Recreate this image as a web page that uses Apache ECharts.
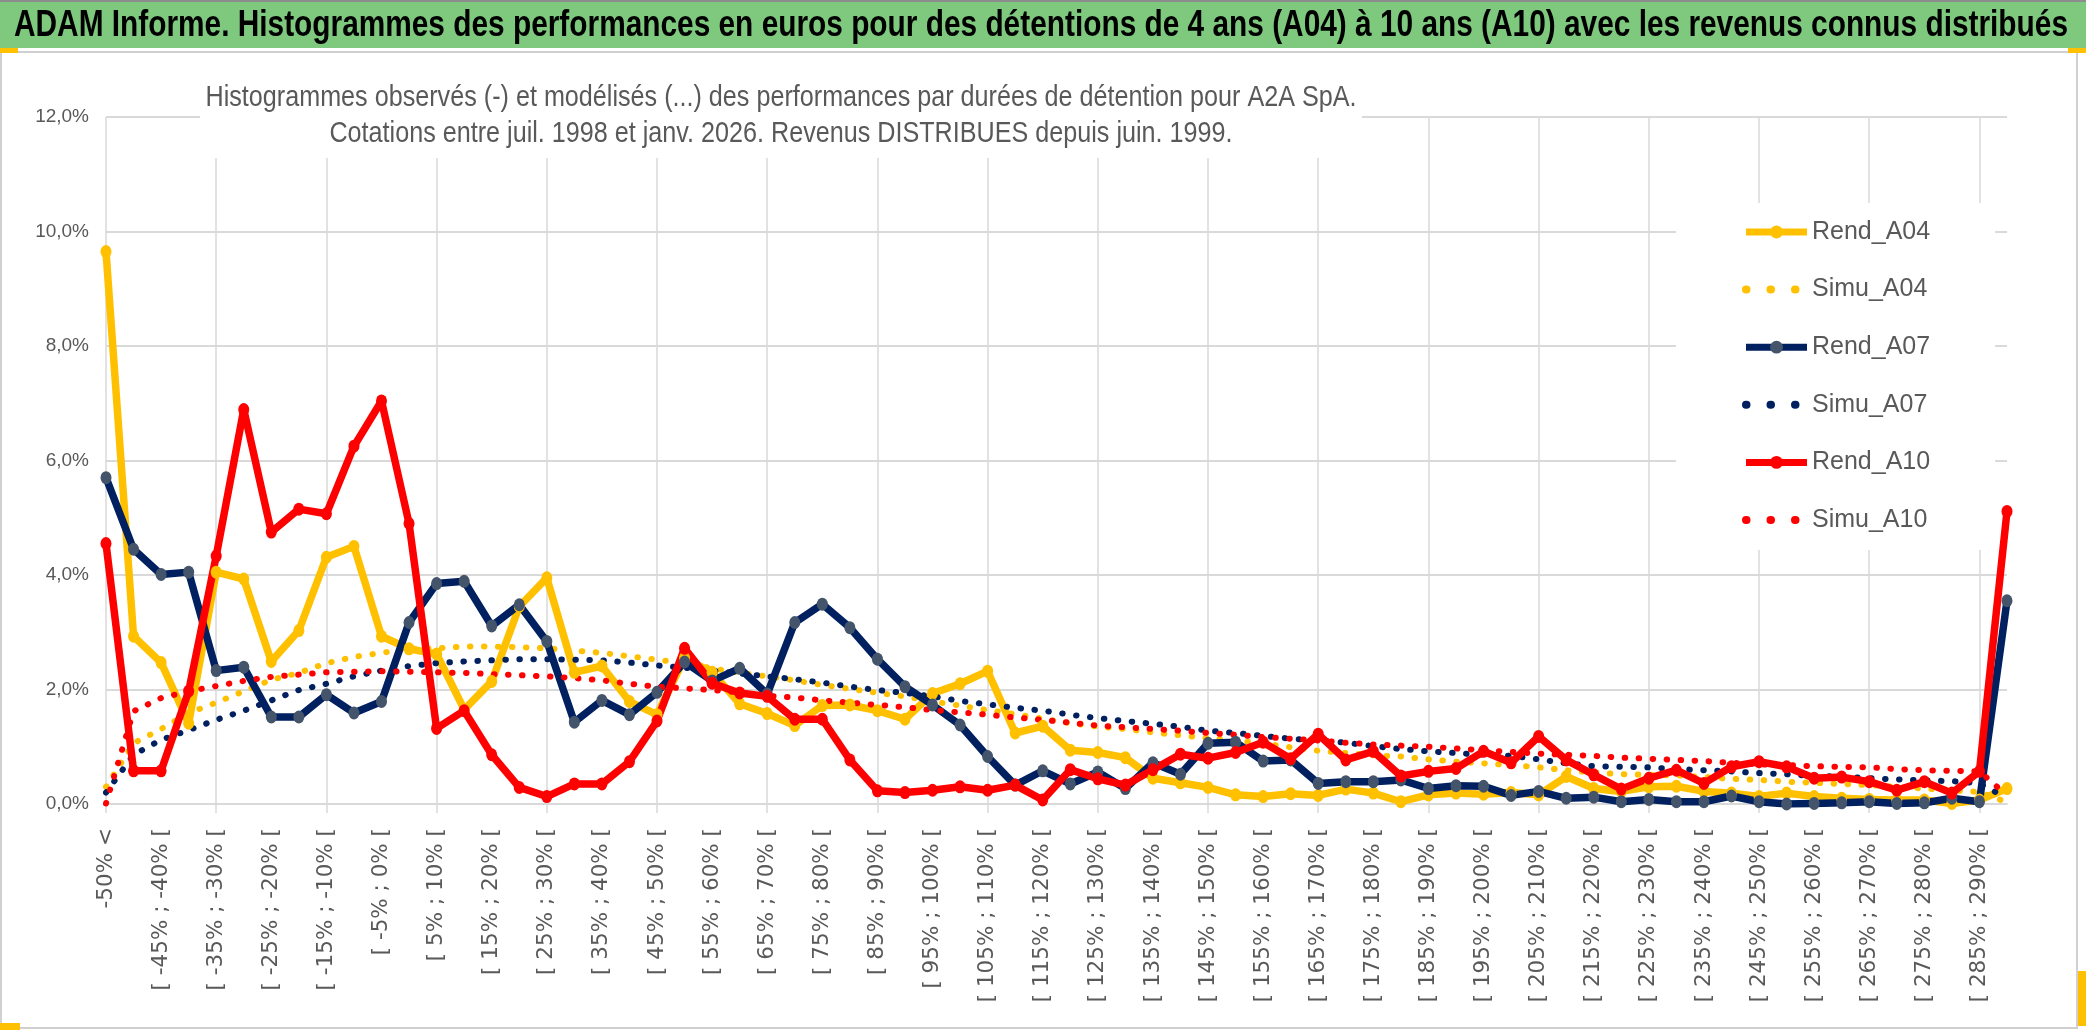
<!DOCTYPE html>
<html>
<head>
<meta charset="utf-8">
<script src="https://cdn.jsdelivr.net/npm/echarts@6/dist/echarts.min.js"></script>
<style>
html,body{margin:0;padding:0;background:#fff;}
#chart{width:2086px;height:1031px;}
</style>
</head>
<body>
<div id="chart"></div>
<script>
const categories = [
 "-50% <","[ -50% ; -45% [","[ -45% ; -40% [","[ -40% ; -35% [","[ -35% ; -30% [","[ -30% ; -25% [","[ -25% ; -20% [","[ -20% ; -15% [","[ -15% ; -10% [","[ -10% ; -5% [",
 "[ -5% ; 0% [","[ 0% ; 5% [","[ 5% ; 10% [","[ 10% ; 15% [","[ 15% ; 20% [","[ 20% ; 25% [","[ 25% ; 30% [","[ 30% ; 35% [","[ 35% ; 40% [","[ 40% ; 45% [",
 "[ 45% ; 50% [","[ 50% ; 55% [","[ 55% ; 60% [","[ 60% ; 65% [","[ 65% ; 70% [","[ 70% ; 75% [","[ 75% ; 80% [","[ 80% ; 85% [","[ 85% ; 90% [","[ 90% ; 95% [",
 "[ 95% ; 100% [","[ 100% ; 105% [","[ 105% ; 110% [","[ 110% ; 115% [","[ 115% ; 120% [","[ 120% ; 125% [","[ 125% ; 130% [","[ 130% ; 135% [","[ 135% ; 140% [","[ 140% ; 145% [",
 "[ 145% ; 150% [","[ 150% ; 155% [","[ 155% ; 160% [","[ 160% ; 165% [","[ 165% ; 170% [","[ 170% ; 175% [","[ 175% ; 180% [","[ 180% ; 185% [","[ 185% ; 190% [","[ 190% ; 195% [",
 "[ 195% ; 200% [","[ 200% ; 205% [","[ 205% ; 210% [","[ 210% ; 215% [","[ 215% ; 220% [","[ 220% ; 225% [","[ 225% ; 230% [","[ 230% ; 235% [","[ 235% ; 240% [","[ 240% ; 245% [",
 "[ 245% ; 250% [","[ 250% ; 255% [","[ 255% ; 260% [","[ 260% ; 265% [","[ 265% ; 270% [","[ 270% ; 275% [","[ 275% ; 280% [","[ 280% ; 285% [","[ 285% ; 290% [","> 290%"
];

// values in percent
const rendA04 = [9.65,2.93,2.47,1.41,4.05,3.93,2.49,3.03,4.31,4.50,
 2.93,2.71,2.62,1.65,2.14,3.45,3.95,2.30,2.41,1.79,
 1.56,2.55,2.30,1.75,1.58,1.37,1.72,1.73,1.63,1.48,
 1.93,2.10,2.32,1.24,1.36,0.94,0.90,0.81,0.45,0.37,
 0.29,0.16,0.13,0.18,0.15,0.26,0.19,0.04,0.16,0.19,
 0.17,0.20,0.16,0.48,0.27,0.22,0.30,0.31,0.22,0.19,
 0.13,0.19,0.13,0.10,0.08,0.07,0.07,0.01,0.07,0.27];
const simuA04 = [0.30,1.06,1.31,1.59,1.77,1.97,2.17,2.29,2.46,2.57,
 2.64,2.71,2.72,2.75,2.75,2.74,2.72,2.68,2.64,2.58,
 2.52,2.46,2.37,2.29,2.23,2.16,2.08,2.01,1.94,1.88,
 1.79,1.72,1.64,1.57,1.49,1.41,1.35,1.31,1.25,1.20,
 1.15,1.11,1.06,0.99,0.93,0.89,0.85,0.83,0.78,0.74,
 0.71,0.68,0.64,0.59,0.55,0.52,0.51,0.50,0.47,0.44,
 0.42,0.39,0.37,0.35,0.33,0.30,0.27,0.24,0.21,0.03];
const rendA07 = [5.70,4.45,4.01,4.05,2.33,2.39,1.52,1.52,1.91,1.59,
 1.79,3.17,3.85,3.89,3.11,3.48,2.84,1.43,1.81,1.56,
 1.95,2.48,2.15,2.37,1.92,3.17,3.49,3.08,2.53,2.05,
 1.73,1.38,0.83,0.33,0.58,0.35,0.56,0.27,0.72,0.52,
 1.06,1.08,0.75,0.77,0.36,0.39,0.39,0.42,0.27,0.32,
 0.31,0.15,0.22,0.10,0.12,0.04,0.08,0.04,0.04,0.14,
 0.04,0.00,0.01,0.02,0.04,0.01,0.02,0.10,0.04,3.55];
const simuA07 = [0.20,0.86,1.12,1.29,1.47,1.63,1.81,1.99,2.10,2.23,
 2.33,2.41,2.46,2.49,2.51,2.53,2.53,2.52,2.51,2.47,
 2.42,2.38,2.33,2.28,2.23,2.18,2.12,2.05,1.99,1.94,
 1.88,1.80,1.74,1.68,1.63,1.56,1.50,1.45,1.40,1.35,
 1.28,1.24,1.19,1.14,1.11,1.07,1.01,0.96,0.92,0.89,
 0.86,0.84,0.78,0.71,0.66,0.65,0.64,0.61,0.59,0.57,
 0.54,0.52,0.49,0.48,0.45,0.43,0.41,0.40,0.36,0.10];
const rendA10 = [4.55,0.58,0.58,1.97,4.33,6.89,4.75,5.15,5.07,6.25,
 7.04,4.90,1.32,1.63,0.86,0.29,0.13,0.35,0.35,0.74,
 1.45,2.72,2.11,1.94,1.88,1.48,1.48,0.77,0.23,0.20,
 0.24,0.30,0.24,0.33,0.07,0.60,0.44,0.33,0.60,0.87,
 0.80,0.90,1.08,0.79,1.22,0.77,0.92,0.49,0.57,0.62,
 0.92,0.72,1.18,0.77,0.51,0.26,0.45,0.59,0.36,0.65,
 0.74,0.65,0.45,0.47,0.39,0.24,0.39,0.19,0.57,5.11];
const simuA10 = [0.01,1.62,1.85,1.97,2.06,2.15,2.22,2.26,2.30,2.31,
 2.32,2.31,2.30,2.29,2.27,2.25,2.23,2.20,2.16,2.10,
 2.05,2.02,1.99,1.95,1.89,1.86,1.81,1.77,1.73,1.69,
 1.64,1.60,1.56,1.51,1.47,1.42,1.37,1.34,1.31,1.28,
 1.24,1.21,1.17,1.14,1.11,1.07,1.04,1.02,1.00,0.97,
 0.94,0.91,0.88,0.86,0.84,0.81,0.79,0.77,0.75,0.72,
 0.69,0.68,0.66,0.65,0.64,0.61,0.59,0.58,0.57,0.15];

const seriesNames = ["Rend_A04","Simu_A04","Rend_A07","Simu_A07","Rend_A10","Simu_A10"];
const mainTitle = "ADAM Informe. Histogrammes des performances en euros pour des détentions de 4 ans (A04) à 10 ans (A10) avec les revenus connus distribués";
const subTitle1 = "Histogrammes observés (-) et modélisés (...) des performances par durées de détention pour A2A SpA.";
const subTitle2 = "Cotations entre juil. 1998 et janv. 2026. Revenus DISTRIBUES depuis juin. 1999.";

const SANS = "'Liberation Sans', Arial, sans-serif";
const GREY = '#595959';
const GRID = '#D9D9D9';

// measure text to emulate the condensed face of the original
const mctx = document.createElement('canvas').getContext('2d');
function textWidth(font, s) { mctx.font = font; return mctx.measureText(s).width; }
const TITLE_FONT = "bold 37px 'Liberation Sans'";
const SUB_FONT = "30px 'Liberation Sans'";
const titleScale = 2054 / textWidth(TITLE_FONT, mainTitle);
const subScale = 1151 / textWidth(SUB_FONT, subTitle1);

function rend(name, data, lineColor, markerColor) {
  return {
    name: name, type: 'line', data: data,
    symbol: 'circle', symbolSize: [11, 13], showSymbol: true,
    lineStyle: {color: lineColor, width: 7.5, join: 'round'},
    itemStyle: {color: markerColor, borderWidth: 0},
    emphasis: {disabled: true}
  };
}
function simu(name, data, color) {
  return {
    name: name, type: 'line', data: data,
    symbol: 'none', showSymbol: false,
    lineStyle: {color: color, width: 6, type: [0.5, 13.5], cap: 'round'},
    itemStyle: {color: color},
    emphasis: {disabled: true}
  };
}
function legendItem(name) {
  if (name.indexOf('Simu') === 0) {
    return {name: name, itemStyle: {opacity: 0}, lineStyle: {width: 8, type: [0.5, 24], cap: 'round'}};
  }
  return {name: name, lineStyle: {width: 7}};
}

const chart = echarts.init(document.getElementById('chart'), null, {renderer: 'canvas'});
chart.setOption({
  animation: false,
  backgroundColor: '#fff',
  graphic: [
    {type: 'rect', z: -10, shape: {x: 0, y: 0, width: 2086, height: 2}, style: {fill: '#8c8c8c'}},
    {type: 'rect', z: -10, shape: {x: 0, y: 2, width: 2086, height: 46}, style: {fill: '#7EC97E'}},
    {type: 'rect', z: -10, shape: {x: 1, y: 52, width: 2076, height: 976}, style: {fill: 'none', stroke: '#D0D0D0', lineWidth: 2}},
    {type: 'rect', z: -9, shape: {x: 0, y: 48, width: 18, height: 5}, style: {fill: '#FFC000'}},
    {type: 'rect', z: -9, shape: {x: 2068, y: 48, width: 18, height: 5}, style: {fill: '#FFC000'}},
    {type: 'rect', z: -9, shape: {x: 0, y: 1023, width: 20, height: 7}, style: {fill: '#FFC000'}},
    {type: 'rect', z: -9, shape: {x: 2078, y: 971, width: 8, height: 55}, style: {fill: '#FFC000'}},
    {type: 'text', z: 100, x: 1041, y: 26, scaleX: titleScale,
      style: {text: mainTitle, font: TITLE_FONT, fill: '#000', align: 'center', verticalAlign: 'middle', textAlign: 'center', textVerticalAlign: 'middle'}},
    {type: 'rect', z: 99, shape: {x: 200, y: 73, width: 1162, height: 85}, style: {fill: '#fff'}},
    {type: 'text', z: 100, x: 781, y: 98, scaleX: subScale,
      style: {text: subTitle1, font: SUB_FONT, fill: GREY, align: 'center', verticalAlign: 'middle', textAlign: 'center', textVerticalAlign: 'middle'}},
    {type: 'text', z: 100, x: 781, y: 134, scaleX: subScale,
      style: {text: subTitle2, font: SUB_FONT, fill: GREY, align: 'center', verticalAlign: 'middle', textAlign: 'center', textVerticalAlign: 'middle'}}
  ],
  legend: {
    data: seriesNames.map(legendItem),
    orient: 'vertical',
    left: 1676, top: 203, padding: [14, 65, 15, 66],
    backgroundColor: '#fff',
    itemWidth: 61, itemHeight: 16, itemGap: 27.6,
    textStyle: {fontFamily: SANS, fontSize: 25, lineHeight: 30, color: GREY}
  },
  grid: {left: 106, right: 79, top: 117, bottom: 227, containLabel: false},
  xAxis: {
    type: 'category', data: categories, boundaryGap: false,
    axisLine: {show: true, lineStyle: {color: GRID, width: 2}},
    axisTick: {show: true, interval: 3, length: 9, lineStyle: {color: GRID, width: 1.5}},
    axisLabel: {interval: 1, rotate: 90, margin: 24, fontFamily: "'DejaVu Sans', sans-serif", fontSize: 21.5, color: GREY},
    splitLine: {show: true, interval: 3, lineStyle: {color: GRID, width: 1.5}}
  },
  yAxis: {
    type: 'value', min: 0, max: 12, interval: 2,
    axisLine: {show: false}, axisTick: {show: false},
    axisLabel: {margin: 17, fontFamily: SANS, fontSize: 19, color: GREY,
      formatter: v => v.toFixed(1).replace('.', ',') + '%'},
    splitLine: {show: true, lineStyle: {color: GRID, width: 2}}
  },
  series: [
    rend('Rend_A04', rendA04, '#FFC000', '#FFC000'),
    simu('Simu_A04', simuA04, '#FFC000'),
    rend('Rend_A07', rendA07, '#002060', '#44546A'),
    simu('Simu_A07', simuA07, '#002060'),
    rend('Rend_A10', rendA10, '#FF0000', '#FF0000'),
    simu('Simu_A10', simuA10, '#FF0000')
  ]
});
</script>
</body>
</html>
